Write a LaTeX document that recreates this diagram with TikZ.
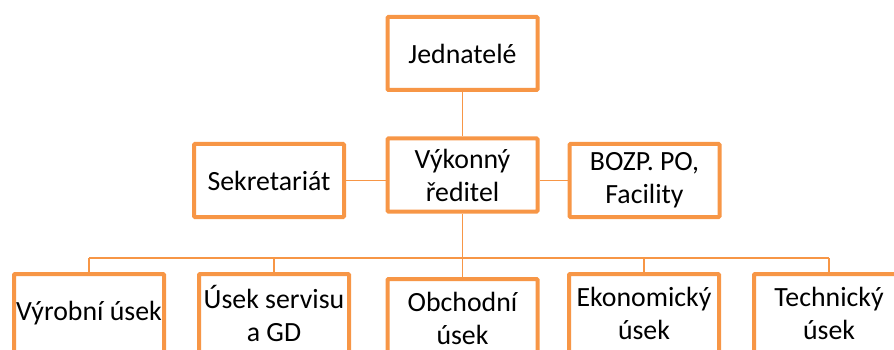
\documentclass[tikz,border=0pt]{standalone}
\usepackage{fontspec}
\setmainfont{Carlito}
\usepackage{tikz}
\usetikzlibrary{positioning}
\definecolor{boxorange}{HTML}{F79646}

\begin{document}
\begin{tikzpicture}[x=1pt,y=-1pt,
    main node/.style={draw=boxorange,line width=4pt,rounded corners=1pt,fill=white,
      align=center,inner sep=0pt,minimum width=150pt,minimum height=73pt,
      font=\fontsize{27.8}{33}\selectfont},
    low node/.style={main node,minimum height=78pt},
    link/.style={draw=boxorange,line width=1.5pt}]

  \clip (0,0) rectangle (894,350);
  \useasboundingbox (0,0) rectangle (894,350);

  % Define boxes by coordinates
  \node[main node] (J) at (462.5,53.5) {Jednatelé};
  \node[main node] (V) at (462.5,175) {Výkonný\\ředitel};
  \node[main node] (S) at (269,180.5) {Sekretariát};
  \node[main node] (B) at (644.5,180.5) {BOZP. PO,\\Facility};

  \node[low node] (VY) at (89,313) {Výrobní úsek};
  \node[low node] (US) at (274,313) {Úsek servisu\\a GD};
  \node[low node] (OB) at (462.5,318) {Obchodní\\úsek};
  \node[low node] (EK) at (644,313) {Ekonomický\\úsek};
  \node[low node] (TE) at (829,313) {Technický\\úsek};

  % Draw connectors
  \coordinate (bus) at (462.5,258);
  \path[link]
    (J.south) edge (V.north)
    (S.east) edge (S.east -| V.west)
    (B.west) edge (B.west -| V.east)
    (V.south) edge (bus)
    (bus -| VY.north) edge (bus -| TE.north);
  \foreach \n in {VY,US,OB,EK,TE}
    \draw[link] (bus -| \n.north) -- (\n.north);
\end{tikzpicture}
\end{document}
